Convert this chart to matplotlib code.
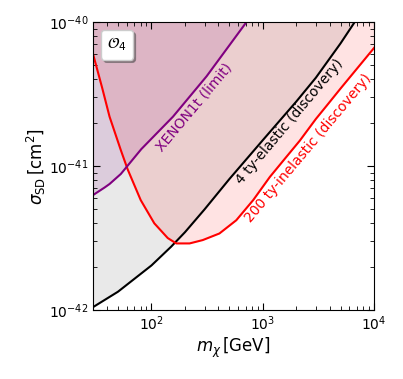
import matplotlib.pyplot as plt
import matplotlib.ticker as mticker
import numpy as np

# curves (m in GeV, sigma in cm^2)
m_elastic = [30, 50, 100, 150, 200, 300, 500, 1000, 2000, 3000, 5000, 7000, 10000]
s_elastic = [1.05e-42, 1.34e-42, 2.04e-42, 2.75e-42, 3.47e-42, 5.0e-42, 8.1e-42,
             1.51e-41, 2.8e-41, 4.1e-41, 7.1e-41, 1.05e-40, 1.55e-40]

m_inel = [30, 36, 42, 53, 61, 80, 106, 140, 167, 220, 289, 408, 578, 821, 1159,
          1635, 2153, 3000, 3750, 5000, 10000]
s_inel = [5.9e-41, 3.5e-41, 2.2e-41, 1.29e-41, 9.5e-42, 5.8e-42, 4.0e-42, 3.16e-42,
          2.9e-42, 2.9e-42, 3.06e-42, 3.4e-42, 4.2e-42, 5.8e-42, 8.4e-42,
          1.16e-41, 1.5e-41, 2.12e-41, 2.62e-41, 3.45e-41, 6.6e-41]

m_xenon = [30, 38, 42, 53, 81, 156, 313, 715, 1000]
s_xenon = [6.3e-42, 7.1e-42, 7.5e-42, 8.8e-42, 1.31e-41, 2.2e-41, 4.2e-41, 1.0e-40, 1.4e-40]

top = 1e-39

fig = plt.figure(figsize=(4.03, 3.79), dpi=100)
ax = fig.add_axes([0.2315, 0.182, 0.6966, 0.760])

ax.fill_between(m_elastic, s_elastic, top, color='#e9e9e9', lw=0)
ax.fill_between(m_inel, s_inel, top, color='red', alpha=0.11, lw=0)
ax.fill_between(m_xenon, s_xenon, top, color='purple', alpha=0.12, lw=0)

ax.plot(m_elastic, s_elastic, color='black', lw=1.5)
ax.plot(m_inel, s_inel, color='red', lw=1.5)
ax.plot(m_xenon, s_xenon, color='purple', lw=1.5)

ax.set_xscale('log')
ax.set_yscale('log')
ax.set_xlim(30, 1e4)
ax.set_ylim(1e-42, 1e-40)
ax.set_xticks([1e2, 1e3, 1e4])
ax.set_yticks([1e-42, 1e-41, 1e-40])

ax.text(240, 2.57e-41, 'XENON1t (limit)', color='purple', fontsize=10,
        rotation=50, ha='center', va='center', rotation_mode='anchor')
ax.text(1750, 2.02e-41, '4 ty-elastic (discovery)', color='black', fontsize=10,
        rotation=50, ha='center', va='center', rotation_mode='anchor')
ax.text(2550, 1.33e-41, '200 ty-inelastic (discovery)', color='red', fontsize=10,
        rotation=50, ha='center', va='center', rotation_mode='anchor')

leg = ax.legend(handles=[plt.Line2D([], [], ls='none')], labels=[r'$\mathcal{O}_4$'],
                loc='upper left', handlelength=0, handletextpad=0, fontsize=11,
                shadow=True, fancybox=True, framealpha=1)

ax.tick_params(which='both', direction='in', top=True, right=True)
ax.tick_params(which='major', length=5)
ax.tick_params(which='minor', length=3)
ax.xaxis.set_minor_formatter(mticker.NullFormatter())
ax.yaxis.set_minor_formatter(mticker.NullFormatter())

ax.set_xlabel(r'$m_\chi\,[{\rm GeV}]$', fontsize=12, labelpad=2)
ax.set_ylabel(r'$\sigma_{\rm SD}\,[{\rm cm}^2]$', fontsize=12, labelpad=0.5)

plt.savefig('out.png', dpi=100)
